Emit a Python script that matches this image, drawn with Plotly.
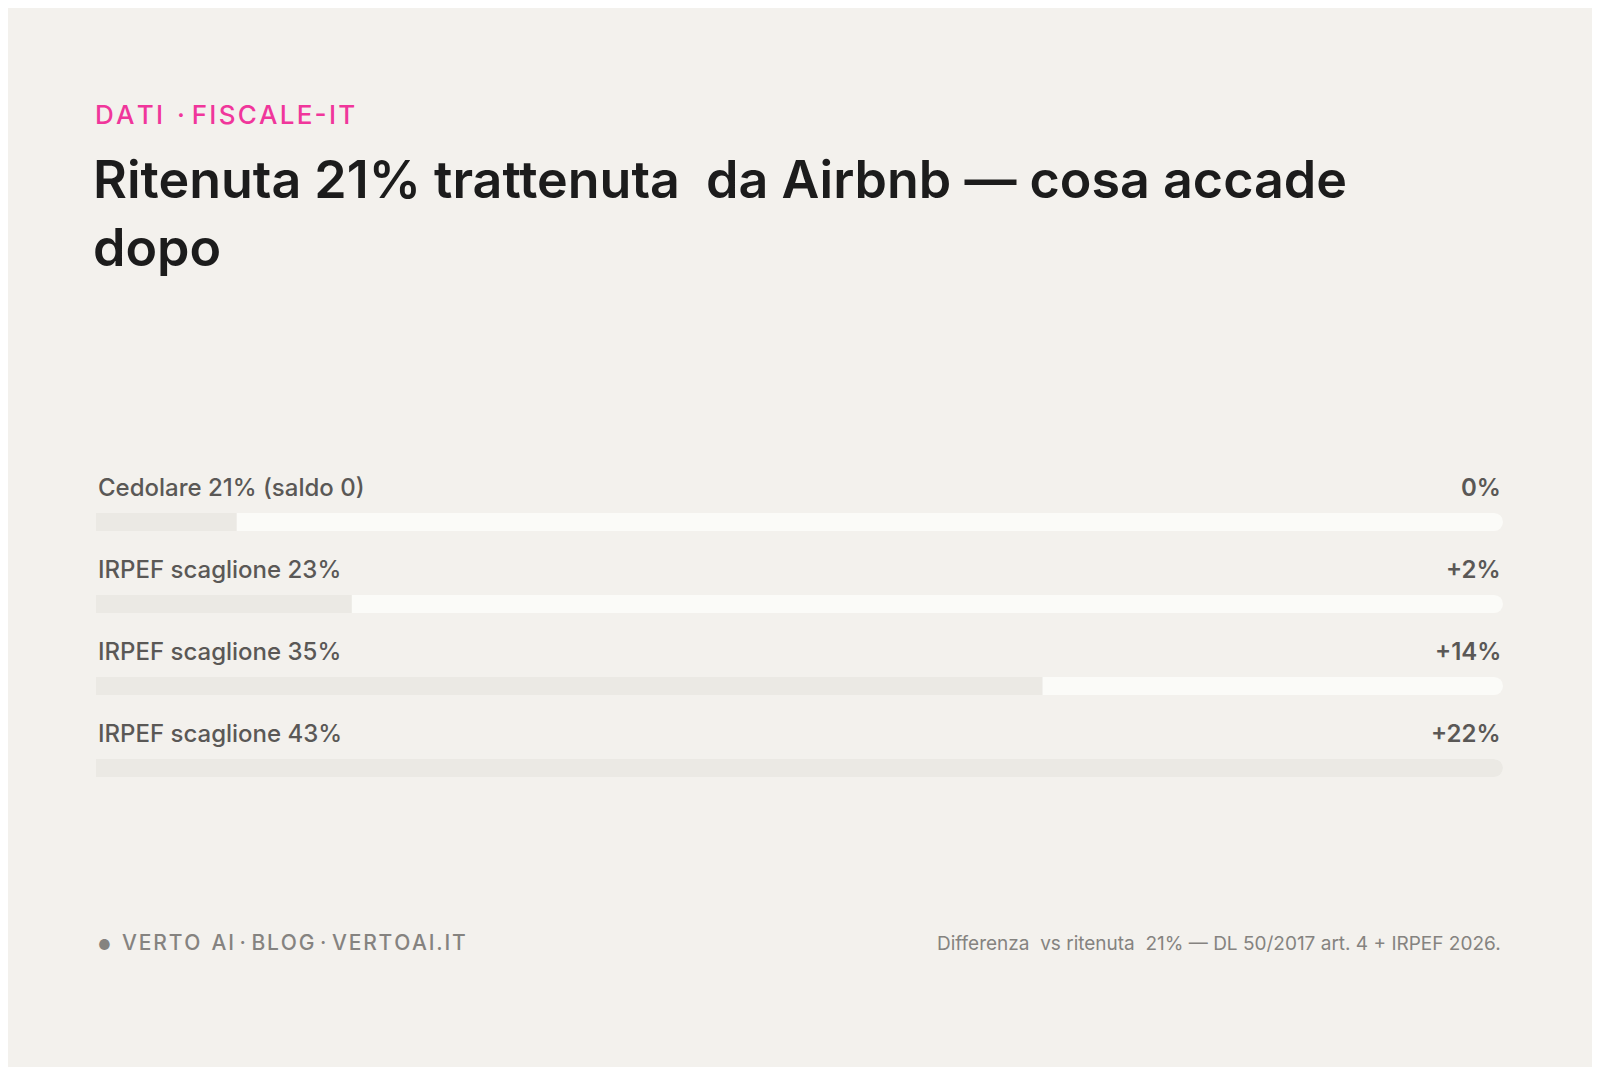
import plotly.graph_objects as go

categories = ["Cedolare 21% (saldo 0)", "IRPEF scaglione 23%", "IRPEF scaglione 35%", "IRPEF scaglione 43%"]
values = [0, 2, 14, 22]
value_labels = ["0%", "+2%", "+14%", "+22%"]

W, H = 1600, 1067
OFF = 8  # page body margin shifts the figure
X0, X1 = 96 - OFF, 1503 - OFF
ROW0, STEP = 522 - OFF, 82

vmax = max(values)
fill = [0.1 + 0.9 * v / vmax for v in values]
rows = list(range(len(categories)))


def spaced(s):
    return "\u200a".join(s)


fig = go.Figure()
# track
fig.add_trace(go.Bar(
    x=[1] * len(rows), y=rows, orientation="h", width=0.22,
    marker=dict(color="#fbfbf8", cornerradius=9, line_width=0),
    hoverinfo="skip",
))
# filled part
fig.add_trace(go.Bar(
    x=fill, y=rows, orientation="h", width=0.22,
    marker=dict(color="#ebe9e4", cornerradius=9, line_width=0),
    hoverinfo="skip",
))

for i, (cat, lab) in enumerate(zip(categories, value_labels)):
    fig.add_annotation(x=0, y=i - 0.415, xref="x", yref="y", text=cat, showarrow=False,
                       xanchor="left", font=dict(family="Inter", size=24, color="#5a5856", weight=500))
    fig.add_annotation(x=1, y=i - 0.415, xref="x", yref="y", text=lab, showarrow=False,
                       xanchor="right", font=dict(family="Inter", size=24, color="#5a5856", weight=600))

fig.add_annotation(x=X0 / W - 0.002, y=1 - (114 - OFF) / H, xref="paper", yref="paper",
                   text=spaced("DATI") + "  · " + spaced("FISCALE-IT"),
                   showarrow=False, xanchor="left", yanchor="middle",
                   font=dict(family="Inter", size=26, color="#f0369b", weight=500))
fig.add_annotation(x=X0 / W - 0.003, y=1 - (146 - OFF) / H, xref="paper", yref="paper",
                   text="Ritenuta 21% trattenuta  da Airbnb — cosa accade<br>dopo",
                   showarrow=False, xanchor="left", yanchor="top", align="left",
                   font=dict(family="Inter", size=52, color="#1c1c1c", weight=600))
fig.add_annotation(x=X0 / W, y=1 - (957 - OFF) / H, xref="paper", yref="paper",
                   text="<span style='font-size:14px'>●</span>  " + spaced("VERTO") + "  " + spaced("AI")
                        + " · " + spaced("BLOG") + " · " + spaced("VERTOAI.IT"),
                   showarrow=False, xanchor="left",
                   font=dict(family="Inter", size=21, color="#858380", weight=500))
fig.add_annotation(x=X1 / W, y=1 - (957 - OFF) / H, xref="paper", yref="paper",
                   text="Differenza  vs ritenuta  21% — DL 50/2017 art. 4 + IRPEF 2026.", showarrow=False,
                   xanchor="right", font=dict(family="Inter", size=19, color="#858380"))

fig.update_layout(
    width=W, height=H, margin=dict(l=0, r=0, t=0, b=0),
    paper_bgcolor="#f3f1ed", plot_bgcolor="rgba(0,0,0,0)",
    barmode="overlay", showlegend=False,
    xaxis=dict(domain=[X0 / W, X1 / W], range=[0, 1], visible=False, fixedrange=True),
    yaxis=dict(domain=[0, 1], range=[(H - ROW0) / STEP, -ROW0 / STEP], visible=False, fixedrange=True),
)

fig.write_html("out.html")
